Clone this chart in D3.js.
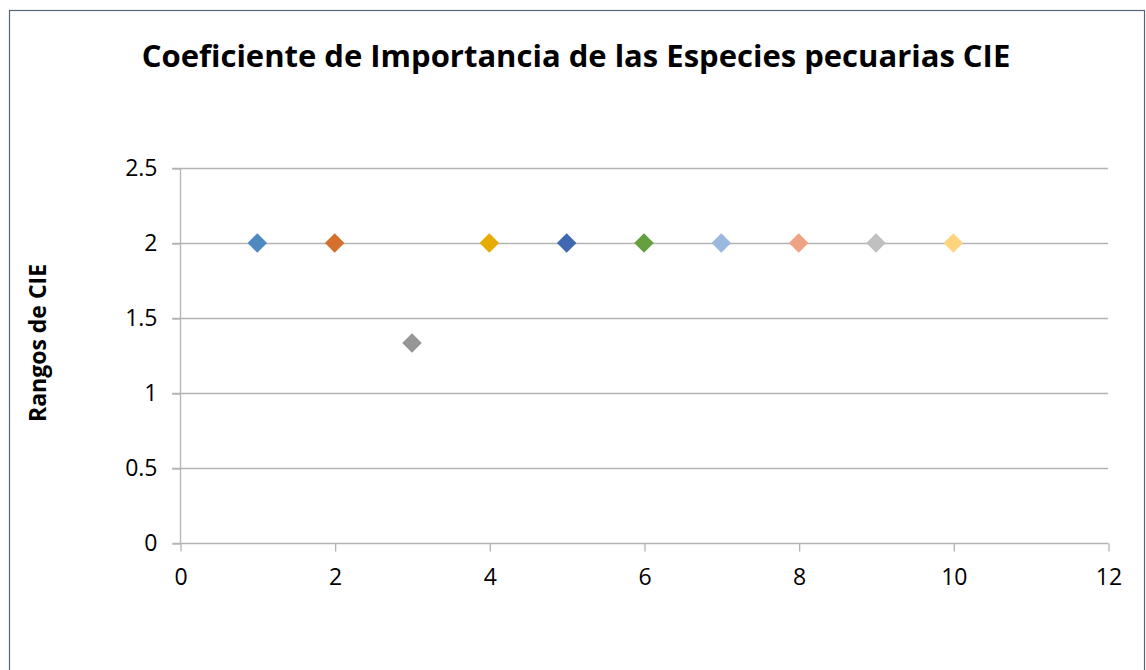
<!DOCTYPE html>
<html><head><meta charset="utf-8">
<script src="https://cdn.jsdelivr.net/npm/d3@7"></script>
<style>body{margin:0;background:#fff}svg{display:block}</style>
</head><body>
<script>
const xValues = [1, 2, 3, 4, 5, 6, 7, 8, 9, 10];
const yValues = [2, 2, 1.3333, 2, 2, 2, 2, 2, 2, 2];
const colors = ["#4F89C2", "#D46F2D", "#969696", "#E5AB00", "#3F67B2", "#64A03F", "#9AB8E0", "#F0A285", "#C0C0C0", "#FFD47F"];
const xTicks = [0, 2, 4, 6, 8, 10, 12];
const yTicks = [0, 0.5, 1, 1.5, 2, 2.5];
const title = "Coeficiente de Importancia de las Especies pecuarias CIE";
const yTitle = "Rangos de CIE";

const W = 1146, H = 670;
const svg = d3.select("body").append("svg").attr("width", W).attr("height", H);
const font = "'Open Sans', 'Liberation Sans', sans-serif";

svg.append("rect").attr("x", 9.5).attr("y", 10.5).attr("width", 1135).attr("height", 700)
  .attr("fill", "#fff").attr("stroke", "#56637a").attr("stroke-width", 1.2);

const x = d3.scaleLinear().domain([0, 12]).range([180, 1108]);
const y = d3.scaleLinear().domain([0, 2.5]).range([543, 168]);

// gridlines
svg.append("g").selectAll("line").data(yTicks.filter(d => d > 0)).join("line")
  .attr("x1", 172).attr("x2", 1108)
  .attr("y1", d => Math.round(y(d)) + 0.5).attr("y2", d => Math.round(y(d)) + 0.5)
  .attr("stroke", "#b3b3b3").attr("stroke-width", 1.3);

// y axis
const yAxis = d3.axisLeft(y).tickValues(yTicks).tickSize(8).tickPadding(15).tickFormat(d => String(d));
const gy = svg.append("g").attr("transform", "translate(180.5,0.5)").call(yAxis);
gy.select(".domain").attr("stroke", "#b3b3b3").attr("stroke-width", 1.3).attr("d", `M0,${y(2.5)}V${y(0)}`);
gy.selectAll(".tick line").attr("stroke", "#b3b3b3").attr("stroke-width", 1.3);
gy.selectAll(".tick text").attr("font-family", font).attr("font-size", 23).attr("fill", "#000");

// x axis
const xAxis = d3.axisBottom(x).tickValues(xTicks).tickSize(8).tickPadding(17).tickFormat(d => String(d));
const gx = svg.append("g").attr("transform", `translate(0.5,${Math.round(y(0)) + 0.5})`).call(xAxis);
gx.select(".domain").attr("stroke", "#b3b3b3").attr("stroke-width", 1.3).attr("d", `M${x(0) - 8},0H${x(12)}`);
gx.selectAll(".tick line").attr("stroke", "#b3b3b3").attr("stroke-width", 1.3);
gx.selectAll(".tick text").attr("font-family", font).attr("font-size", 23).attr("fill", "#000");

// markers
const sym = d3.symbol().type(d3.symbolSquare).size(190);
svg.append("g").selectAll("path").data(xValues).join("path")
  .attr("d", sym)
  .attr("transform", (d, i) => `translate(${x(d)},${y(yValues[i])}) rotate(45)`)
  .attr("fill", (d, i) => colors[i]);

// title
svg.append("text").attr("x", 576).attr("y", 67).attr("text-anchor", "middle")
  .attr("font-family", font).attr("font-weight", "bold").attr("font-size", 31).attr("fill", "#000")
  .text(title);

// y title
svg.append("text").attr("transform", "translate(46,343) rotate(-90)").attr("text-anchor", "middle")
  .attr("font-family", font).attr("font-weight", "bold").attr("font-size", 23).attr("fill", "#000")
  .text(yTitle);
</script>
</body></html>
